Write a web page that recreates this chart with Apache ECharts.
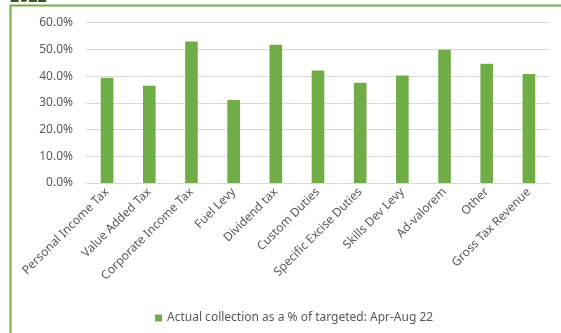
<!DOCTYPE html>
<html>
<head>
<meta charset="utf-8">
<script src="https://cdn.jsdelivr.net/npm/echarts@6/dist/echarts.min.js"></script>
<style>
html,body{margin:0;padding:0;background:#fff;}
#chart{width:561px;height:333px;}
</style>
</head>
<body>
<div id="chart"></div>
<script>
const categories = ["Personal Income Tax","Value Added Tax","Corporate Income Tax","Fuel Levy","Dividend tax","Custom Duties","Specific Excise Duties","Skills Dev Levy","Ad-valorem","Other","Gross Tax Revenue"];
const values = [39.4, 36.4, 53.0, 31.1, 51.7, 42.1, 37.5, 40.2, 49.9, 44.6, 40.8];
const seriesName = "Actual collection as a % of targeted: Apr-Aug 22";
const yTicks = [0, 10, 20, 30, 40, 50, 60];

const chart = echarts.init(document.getElementById('chart'));
const font = 'Noto Sans';
chart.setOption({
  animation: false,
  graphic: [
    {type: 'rect', shape: {x: 10.5, y: 5.5, width: 600, height: 400}, style: {fill: 'none', stroke: '#70AD47', lineWidth: 2}, z: 0},
    {type: 'text', left: 10, top: -11, style: {text: '2022', font: 'bold 16px "Noto Sans"', fill: '#375623'}}
  ],
  grid: {left: 86, right: 11, top: 22.7, bottom: 150},
  legend: {
    data: [seriesName],
    left: 150, top: 307,
    itemWidth: 7, itemHeight: 7, itemGap: 3,
    icon: 'rect',
    textStyle: {fontFamily: font, fontSize: 12, color: '#595959'}
  },
  xAxis: {
    type: 'category',
    data: categories,
    axisLine: {lineStyle: {color: '#D9D9D9'}},
    axisTick: {show: false},
    axisLabel: {rotate: 45, interval: 0, margin: 7, fontFamily: font, fontSize: 12, color: '#595959'}
  },
  yAxis: {
    type: 'value',
    min: yTicks[0], max: yTicks[yTicks.length - 1], interval: 10,
    axisLine: {show: false},
    axisTick: {show: false},
    splitLine: {lineStyle: {color: '#D9D9D9'}},
    axisLabel: {margin: 13, fontFamily: font, fontSize: 12, color: '#595959', formatter: v => v.toFixed(1) + '%'}
  },
  series: [{
    name: seriesName,
    type: 'bar',
    data: values,
    barWidth: '30%',
    itemStyle: {color: '#70AD47'}
  }]
});
</script>
</body>
</html>
